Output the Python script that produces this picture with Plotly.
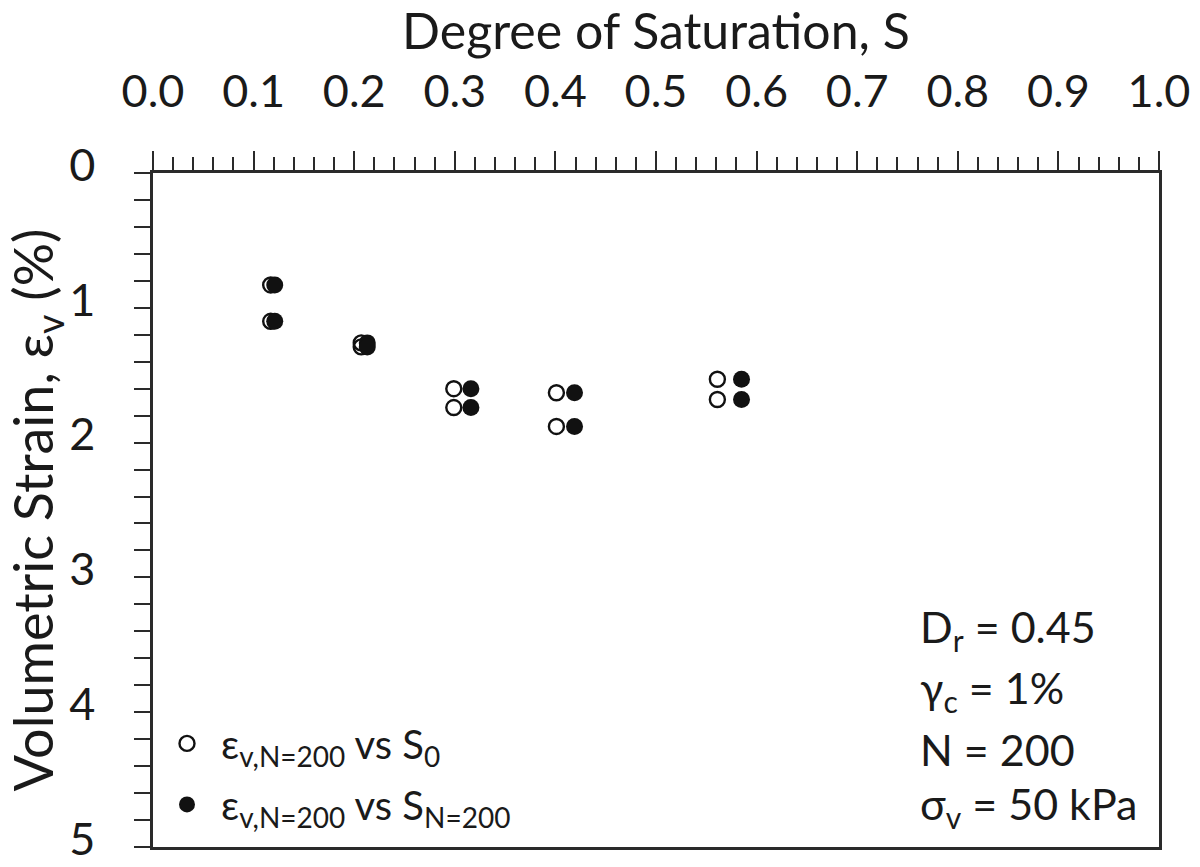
import plotly.graph_objects as go

# Degree of saturation (x) and volumetric strain (y, %)
s0_x = [0.117, 0.117, 0.207, 0.207, 0.299, 0.299, 0.401, 0.401, 0.561, 0.561]
s0_y = [0.83, 1.10, 1.26, 1.29, 1.60, 1.74, 1.63, 1.88, 1.53, 1.68]
sn_x = [0.121, 0.121, 0.213, 0.213, 0.316, 0.316, 0.419, 0.419, 0.585, 0.585]
sn_y = [0.83, 1.10, 1.26, 1.29, 1.60, 1.74, 1.63, 1.88, 1.53, 1.68]

x_ticks = [0.0, 0.1, 0.2, 0.3, 0.4, 0.5, 0.6, 0.7, 0.8, 0.9, 1.0]
y_ticks = [0, 1, 2, 3, 4, 5]

info_lines = ["D<sub>r</sub> = 0.45", "γ<sub>c</sub> = 1%", "N = 200", "σ<sub>v</sub> = 50 kPa"]

FONT = "Lato"
TXT = "#1a1a1a"
LINE = "#2a2a2a"

fig = go.Figure()
fig.add_trace(go.Scatter(
    x=s0_x, y=s0_y, mode="markers", legendgroup="a",
    name="ε<sub>v,N=200</sub> vs S<sub>0</sub>",
    marker=dict(symbol="circle-open", size=15, color="#111111", line=dict(width=2.4, color="#111111")),
))
fig.add_trace(go.Scatter(
    x=sn_x, y=sn_y, mode="markers", legendgroup="b",
    name="ε<sub>v,N=200</sub> vs S<sub>N=200</sub>",
    marker=dict(symbol="circle", size=17, color="#111111"),
))

fig.update_layout(
    width=1200, height=867,
    margin=dict(l=153, r=41, t=173, b=20, autoexpand=False),
    paper_bgcolor="white", plot_bgcolor="white",
    font=dict(family=FONT, size=44, color=TXT),
    showlegend=True,
    legend=dict(
        x=0.0, y=0.015, xanchor="left", yanchor="bottom",
        bgcolor="rgba(0,0,0,0)", font=dict(size=40, family=FONT, color=TXT),
        itemsizing="trace", itemwidth=58, tracegroupgap=6,
    ),
    xaxis=dict(
        side="top", range=[0, 1], tickvals=x_ticks,
        ticktext=[f"{v:.1f}" for v in x_ticks],
        ticks="outside", ticklen=19, tickwidth=2, tickcolor=LINE,
        minor=dict(dtick=0.02, ticks="outside", ticklen=13, tickwidth=2, tickcolor=LINE),
        showline=True, linewidth=2.5, linecolor=LINE, mirror=True,
        showgrid=False, zeroline=False, automargin=False,
        ticklabelstandoff=26, ticklabeloverflow="allow",
        title=dict(text="Degree of Saturation, S", standoff=2, font=dict(size=50)),
        tickfont=dict(size=45),
    ),
    yaxis=dict(
        range=[5.0005, -0.0005], tickvals=y_ticks,
        ticks="outside", ticklen=16, tickwidth=2, tickcolor=LINE,
        minor=dict(dtick=0.2, ticks="outside", ticklen=16, tickwidth=2, tickcolor=LINE),
        showline=True, linewidth=2.5, linecolor=LINE, mirror=True,
        showgrid=False, zeroline=False, automargin=False,
        ticklabelstandoff=30, ticklabeloverflow="allow", ticklabelshift=8,
        title=dict(text="Volumetric Strain, ε<sub>v</sub> (%)", standoff=4, font=dict(size=54)),
        tickfont=dict(size=45),
    ),
)

line_y = [629, 690, 749, 806]
for txt, py in zip(info_lines, line_y):
    fig.add_annotation(
        text=txt, xref="paper", yref="paper",
        x=(918 - 153) / (1159 - 153), y=1 - (py - 173) / (847 - 173),
        xanchor="left", yanchor="middle", showarrow=False,
        font=dict(size=43, family=FONT, color=TXT),
    )

fig.write_html("out.html")
